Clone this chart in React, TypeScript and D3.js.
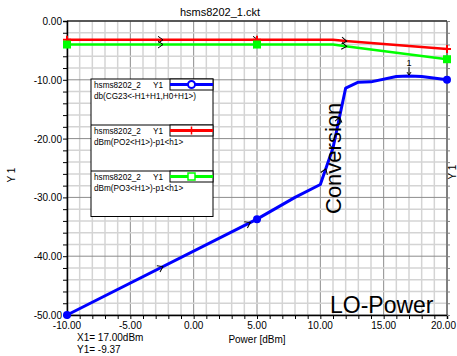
import { useEffect, useRef } from 'react';
import * as d3 from 'd3';

// Conversion gain (blue)
const convPower = [-10, 5, 8, 10, 11, 12, 13, 14, 16, 17, 18, 20];
const convGain = [-50, -33.7, -30.0, -27.8, -21.6, -11.4, -10.4, -10.35, -9.45, -9.37, -9.45, -10.0];
// Output powers (red / green)
const poPower = [-10, 5, 11, 12, 20];
const po2 = [-3.2, -3.2, -3.2, -3.4, -4.75];
const po3 = [-4.0, -4.0, -4.0, -4.3, -6.5];

const markerX = [-10, 5, 20];
const poArrows = [-2.5, 5, 12];
const convArrows = [-2.5, 4.4, 10.4, 11.5];

const xTicks = [-10, -5, 0, 5, 10, 15, 20];
const yTicks = [0, -10, -20, -30, -40, -50];

const legendItems = [
  { name: 'hsms8202_2', expr: 'db(CG23<-H1+H1,H0+H1>)', color: '#0000ff', marker: 'circle' },
  { name: 'hsms8202_2', expr: 'dBm(PO2<H1>)-p1<h1>', color: '#ff0000', marker: 'plus' },
  { name: 'hsms8202_2', expr: 'dBm(PO3<H1>)-p1<h1>', color: '#00ff00', marker: 'square' },
];

const W = 457;
const H = 356;
const m = { left: 67, right: 10, top: 21, bottom: 41 };

export default function App() {
  const ref = useRef<SVGSVGElement>(null);

  useEffect(() => {
    if (!ref.current) return;
    const svg = d3.select(ref.current);
    svg.selectAll('*').remove();
    const font = 'Arial, "Liberation Sans", Helvetica, sans-serif';

    const x = d3.scaleLinear().domain([-10, 20]).range([m.left, W - m.right]);
    const y = d3.scaleLinear().domain([-50, 0]).range([H - m.bottom, m.top]);
    const [x0, x1] = x.range();
    const [y0, y1] = y.range();

    svg.append('rect').attr('width', W).attr('height', H).attr('fill', '#fff');

    // grid
    const grid = svg.append('g');
    d3.range(-10, 20.01, 1).forEach(v => {
      const major = v % 5 === 0;
      grid.append('line')
        .attr('x1', x(v)).attr('x2', x(v)).attr('y1', y1).attr('y2', y0)
        .attr('stroke', major ? '#8c8c8c' : '#d4d4d4')
        .attr('stroke-width', major ? 1 : 1.5);
    });
    d3.range(-50, 0.01, 2).forEach(v => {
      const major = v % 10 === 0;
      grid.append('line')
        .attr('x1', x0).attr('x2', x1).attr('y1', y(v)).attr('y2', y(v))
        .attr('stroke', major ? '#8c8c8c' : '#d4d4d4')
        .attr('stroke-width', major ? 1 : 1.5);
    });

    // frame
    svg.append('line').attr('x1', x1).attr('x2', x1).attr('y1', y1).attr('y2', y0)
      .attr('stroke', '#808080').attr('stroke-width', 2);
    svg.append('line').attr('x1', x0).attr('x2', x1).attr('y1', y1).attr('y2', y1)
      .attr('stroke', '#333').attr('stroke-width', 1.5);

    // axes
    const ax = svg.append('g').attr('transform', `translate(0,${y0})`)
      .call(d3.axisBottom(x).tickValues(d3.range(-10, 20.01, 1)).tickSize(4).tickFormat(() => ''));
    ax.select('.domain').attr('stroke', '#000').attr('stroke-width', 1.5);
    const axl = svg.append('g').attr('transform', `translate(${x0},0)`)
      .call(d3.axisLeft(y).tickValues(d3.range(-50, 0.01, 2)).tickSize(4).tickFormat(() => ''));
    axl.select('.domain').attr('stroke', '#000').attr('stroke-width', 1.5);
    svg.append('g').attr('transform', `translate(${x1},0)`)
      .call(d3.axisRight(y).tickValues(d3.range(-50, 0.01, 2)).tickSize(3).tickFormat(() => ''))
      .call(g => g.select('.domain').remove())
      .selectAll('line').attr('stroke', '#808080');

    xTicks.forEach((v, i) => {
      const last = i === xTicks.length - 1;
      svg.append('text').attr('x', last ? W - 1 : x(v)).attr('y', y0 + 14)
        .attr('text-anchor', last ? 'end' : 'middle').style('font', `10px ${font}`).text(v.toFixed(2));
    });
    yTicks.forEach(v => {
      svg.append('text').attr('x', x0 - 5).attr('y', y(v) + 4)
        .attr('text-anchor', 'end').style('font', `10px ${font}`).text(v.toFixed(2));
    });

    // titles
    svg.append('text').attr('x', 220).attr('y', 16).attr('text-anchor', 'middle')
      .style('font', `11px ${font}`).text('hsms8202_1.ckt');
    svg.append('text').attr('x', 257).attr('y', 343).attr('text-anchor', 'middle')
      .style('font', `10px ${font}`).text('Power [dBm]');
    svg.append('text').attr('transform', 'translate(15,175) rotate(-90)').attr('text-anchor', 'middle')
      .style('font', `10px ${font}`).text('Y 1');
    svg.append('text').attr('transform', `translate(${W - 1},172) rotate(-90)`).attr('text-anchor', 'middle')
      .style('font', `10px ${font}`).text('Y 1');
    svg.append('text').attr('x', 77).attr('y', 341).style('font', `10px ${font}`).text('X1= 17.00dBm');
    svg.append('text').attr('x', 77).attr('y', 353).style('font', `10px ${font}`).text('Y1= -9.37');

    // series
    const line = d3.line<[number, number]>().x(d => x(d[0])).y(d => y(d[1]));
    const interp = (xs: number[], ys: number[], v: number) => {
      for (let i = 0; i < xs.length - 1; i++) {
        if (v >= xs[i] && v <= xs[i + 1]) {
          const t = (v - xs[i]) / (xs[i + 1] - xs[i]);
          return { yv: ys[i] + t * (ys[i + 1] - ys[i]), i };
        }
      }
      return { yv: ys[ys.length - 1], i: xs.length - 2 };
    };
    const series = [
      { xs: poPower, ys: po2, color: '#ff0000', width: 2.5, marker: 'plus', arrows: poArrows },
      { xs: poPower, ys: po3, color: '#00ff00', width: 2.5, marker: 'square', arrows: poArrows },
      { xs: convPower, ys: convGain, color: '#0000ff', width: 3, marker: 'circle', arrows: convArrows },
    ];
    series.forEach(s => {
      const pts = s.xs.map((v, i) => [v, s.ys[i]] as [number, number]);
      svg.append('path').attr('d', line(pts)).attr('fill', 'none')
        .attr('stroke', s.color).attr('stroke-width', s.width).attr('stroke-linejoin', 'round');
      s.arrows.forEach(a => {
        const { yv, i } = interp(s.xs, s.ys, a);
        const ang = Math.atan2(y(s.ys[i + 1]) - y(s.ys[i]), x(s.xs[i + 1]) - x(s.xs[i])) * 180 / Math.PI;
        svg.append('path').attr('d', 'M-4,-3.5L1,0L-4,3.5').attr('fill', 'none')
          .attr('stroke', '#000').attr('stroke-width', 1)
          .attr('transform', `translate(${x(a)},${y(yv)}) rotate(${ang})`);
      });
      markerX.forEach(mx => {
        const { yv } = interp(s.xs, s.ys, mx);
        const cx = x(mx), cy = y(yv);
        if (s.marker === 'circle') {
          svg.append('circle').attr('cx', cx).attr('cy', cy).attr('r', 4).attr('fill', s.color);
        } else if (s.marker === 'square') {
          svg.append('rect').attr('x', cx - 4).attr('y', cy - 4).attr('width', 8).attr('height', 8).attr('fill', s.color);
        } else {
          svg.append('path').attr('d', `M${cx - 4},${cy}H${cx + 4}M${cx},${cy - 4}V${cy + 4}`)
            .attr('stroke', s.color).attr('stroke-width', 2);
        }
      });
    });

    // marker 1
    const mx = x(17), my = y(-9.37);
    svg.append('text').attr('x', mx).attr('y', my - 10).attr('text-anchor', 'middle')
      .style('font', `9px ${font}`).text('1');
    svg.append('path').attr('d', `M${mx},${my - 9}V${my - 1}M${mx - 2},${my - 4}L${mx},${my - 1}L${mx + 2},${my - 4}`)
      .attr('stroke', '#000').attr('fill', 'none').attr('stroke-width', 1);

    // legend
    const lg = svg.append('g');
    const lx = 91, ly = 79, lw = 122, lh = 46;
    const lf = `8.2px ${font}`;
    lg.append('rect').attr('x', lx).attr('y', ly).attr('width', lw).attr('height', lh * 3 - 0.5)
      .attr('fill', '#fff').attr('stroke', '#000');
    legendItems.forEach((it, k) => {
      const top = ly + k * lh;
      if (k > 0) lg.append('line').attr('x1', lx).attr('x2', lx + lw).attr('y1', top).attr('y2', top).attr('stroke', '#000');
      lg.append('text').attr('x', lx + 3).attr('y', top + 9).style('font', lf).text(it.name);
      lg.append('text').attr('x', lx + 62).attr('y', top + 9).style('font', lf).text('Y1');
      lg.append('text').attr('x', lx + 3).attr('y', top + 19.5).style('font', lf).text(it.expr);
      const sx = lx + 79, sw = lw - 79, sy = top + 5.5;
      lg.append('rect').attr('x', sx).attr('y', top).attr('width', sw).attr('height', 11)
        .attr('fill', '#fff').attr('stroke', '#000');
      lg.append('line').attr('x1', sx).attr('x2', sx + sw).attr('y1', sy).attr('y2', sy)
        .attr('stroke', it.color).attr('stroke-width', 3);
      const cx = sx + sw / 2;
      if (it.marker === 'circle') {
        lg.append('circle').attr('cx', cx).attr('cy', sy).attr('r', 3.5).attr('fill', '#fff')
          .attr('stroke', it.color).attr('stroke-width', 2);
      } else if (it.marker === 'square') {
        lg.append('rect').attr('x', cx - 3.5).attr('y', sy - 3.5).attr('width', 7).attr('height', 7)
          .attr('fill', '#fff').attr('stroke', it.color).attr('stroke-width', 1.5);
      } else {
        lg.append('path').attr('d', `M${cx},${sy - 4}V${sy + 4}`).attr('stroke', it.color).attr('stroke-width', 1.5);
      }
    });

    // annotations
    svg.append('text').attr('transform', 'translate(341,214) rotate(-90)')
      .style('font', `22px ${font}`).text('Conversion');
    svg.append('text').attr('x', 330).attr('y', 313)
      .style('font', `23px ${font}`).text('LO-Power');
  }, []);

  return (
    <svg ref={ref} width={W} height={H} viewBox={`0 0 ${W} ${H}`}
      style={{ position: 'absolute', left: 0, top: 0, display: 'block' }} />
  );
}
